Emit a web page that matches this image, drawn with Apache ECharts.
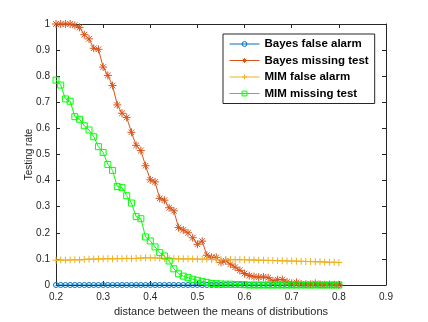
<!DOCTYPE html>
<html>
<head>
<meta charset="utf-8">
<script src="https://cdn.jsdelivr.net/npm/echarts@6/dist/echarts.min.js"></script>
<style>
  html, body { margin: 0; padding: 0; background: #fff; }
  #chart { width: 428px; height: 322px; }
</style>
</head>
<body>
<div id="chart"></div>
<script>
// distance between the means (x)
const distance = [
  0.20, 0.21, 0.22, 0.23, 0.24, 0.25, 0.26, 0.27, 0.28, 0.29,
  0.30, 0.31, 0.32, 0.33, 0.34, 0.35, 0.36, 0.37, 0.38, 0.39,
  0.40, 0.41, 0.42, 0.43, 0.44, 0.45, 0.46, 0.47, 0.48, 0.49,
  0.50, 0.51, 0.52, 0.53, 0.54, 0.55, 0.56, 0.57, 0.58, 0.59,
  0.60, 0.61, 0.62, 0.63, 0.64, 0.65, 0.66, 0.67, 0.68, 0.69,
  0.70, 0.71, 0.72, 0.73, 0.74, 0.75, 0.76, 0.77, 0.78, 0.79,
  0.80
]

const bayesFalseAlarm = [
  0, 0, 0, 0, 0, 0, 0, 0, 0, 0,
  0, 0, 0, 0, 0, 0, 0, 0, 0, 0,
  0, 0, 0, 0, 0, 0, 0, 0, 0, 0,
  0, 0, 0, 0, 0, 0, 0, 0, 0, 0,
  0, 0, 0, 0, 0, 0, 0, 0, 0, 0,
  0, 0, 0, 0, 0, 0, 0, 0, 0, 0,
  0
]

const bayesMissingTest = [
  1.000, 1.000, 1.000, 1.000, 0.995, 0.987, 0.959, 0.943, 0.907, 0.903,
  0.835, 0.803, 0.764, 0.690, 0.658, 0.642, 0.585, 0.535, 0.515, 0.457,
  0.403, 0.395, 0.332, 0.325, 0.296, 0.284, 0.220, 0.211, 0.200, 0.181,
  0.156, 0.168, 0.114, 0.106, 0.106, 0.087, 0.093, 0.080, 0.068, 0.056,
  0.044, 0.036, 0.032, 0.030, 0.031, 0.028, 0.016, 0.020, 0.021, 0.012,
  0.006, 0.010, 0.004, 0.003, 0.002, 0.006, 0.002, 0.001, 0.002, 0.001,
  0.001
]

const mimFalseAlarm = [
  0.095, 0.096, 0.095, 0.096, 0.097, 0.096, 0.098, 0.099, 0.099, 0.100,
  0.100, 0.101, 0.100, 0.101, 0.101, 0.102, 0.101, 0.102, 0.103, 0.104,
  0.104, 0.104, 0.103, 0.102, 0.101, 0.101, 0.100, 0.100, 0.100, 0.100,
  0.099, 0.099, 0.099, 0.098, 0.097, 0.098, 0.098, 0.097, 0.097, 0.097,
  0.097, 0.096, 0.096, 0.095, 0.095, 0.094, 0.094, 0.093, 0.093, 0.092,
  0.092, 0.091, 0.091, 0.090, 0.090, 0.089, 0.089, 0.088, 0.087, 0.087,
  0.086
]

const mimMissingTest = [
  0.785, 0.766, 0.713, 0.704, 0.645, 0.635, 0.610, 0.594, 0.568, 0.530,
  0.508, 0.462, 0.439, 0.377, 0.373, 0.342, 0.314, 0.262, 0.254, 0.184,
  0.169, 0.146, 0.124, 0.111, 0.092, 0.062, 0.043, 0.034, 0.028, 0.022,
  0.018, 0.014, 0.010, 0.006, 0.005, 0.004, 0.003, 0.003, 0.002, 0.002,
  0.001, 0, 0, 0, 0, 0, 0, 0, 0, 0,
  0, 0, 0, 0, 0, 0, 0, 0, 0, 0,
  0
]

const seriesNames = ['Bayes false alarm', 'Bayes missing test', 'MIM false alarm', 'MIM missing test']

const PLUS = 'path://M0,-1L0,1M-1,0L1,0'
const STAR = 'path://M0,-1L0,1M-1,0L1,0M-0.7,-0.7L0.7,0.7M-0.7,0.7L0.7,-0.7'
const textColor = '#262626'

function pairs (ys) {
  return distance.map((x, i) => [x, ys[i]])
}

function makeSeries (name, ys, color, symbol, size) {
  return {
    name: name,
    type: 'line',
    data: pairs(ys),
    color: color,
    symbol: symbol,
    symbolSize: size,
    showAllSymbol: true,
    lineStyle: { color: color, width: 1 },
    itemStyle: { color: 'rgba(0,0,0,0)', borderColor: color, borderWidth: 1 }
  }
}

const chart = echarts.init(document.getElementById('chart'))

const axisCommon = {
  axisLine: { show: true, onZero: false, lineStyle: { color: textColor, width: 1 } },
  axisTick: { show: true, inside: true, length: 4, lineStyle: { color: textColor } },
  splitLine: { show: false }
}

chart.setOption({
  animation: false,
  backgroundColor: '#fff',
  grid: { left: 56, right: 42, top: 24, bottom: 37 },
  xAxis: [
    Object.assign({
      type: 'value', min: 0.2, max: 0.9, interval: 0.1, position: 'bottom',
      name: 'distance between the means of distributions',
      nameLocation: 'middle', nameGap: 21, nameMoveOverlap: false,
      nameTextStyle: { color: textColor, fontSize: 11, fontFamily: 'Liberation Sans' },
      axisLabel: { color: textColor, fontSize: 10, fontFamily: 'Liberation Sans', margin: 7 }
    }, axisCommon),
    Object.assign({
      type: 'value', min: 0.2, max: 0.9, interval: 0.1, position: 'top',
      axisLabel: { show: false }
    }, axisCommon)
  ],
  yAxis: [
    Object.assign({
      type: 'value', min: 0, max: 1, interval: 0.1, position: 'left',
      name: 'Testing rate', nameLocation: 'middle', nameGap: 22, nameMoveOverlap: false,
      nameTextStyle: { color: textColor, fontSize: 10, fontFamily: 'Liberation Sans' },
      axisLabel: { color: textColor, fontSize: 10, fontFamily: 'Liberation Sans', margin: 6 }
    }, axisCommon),
    Object.assign({
      type: 'value', min: 0, max: 1, interval: 0.1, position: 'right',
      axisLabel: { show: false }
    }, axisCommon)
  ],
  legend: {
    data: seriesNames,
    orient: 'vertical',
    left: 223,
    top: 34,
    itemWidth: 30,
    itemHeight: 6,
    itemGap: 4.5,
    padding: [4, 6, 4, 6],
    borderColor: textColor,
    borderWidth: 1,
    backgroundColor: '#fff',
    lineStyle: { width: 1 },
    itemStyle: { borderWidth: 1 },
    textStyle: { color: '#000', fontSize: 11.5, fontWeight: 'bold', fontFamily: 'Liberation Sans' }
  },
  series: [
    makeSeries(seriesNames[0], bayesFalseAlarm, '#0072BD', 'circle', 5),
    makeSeries(seriesNames[1], bayesMissingTest, '#D95319', STAR, 8),
    makeSeries(seriesNames[2], mimFalseAlarm, '#EDB120', PLUS, 7),
    makeSeries(seriesNames[3], mimMissingTest, '#00FF00', 'rect', 6)
  ]
})
</script>
</body>
</html>
